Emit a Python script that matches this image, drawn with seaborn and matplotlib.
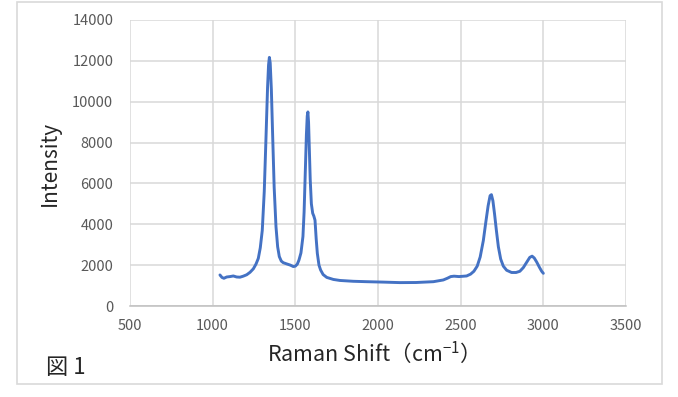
import matplotlib
matplotlib.use("Agg")
import matplotlib.pyplot as plt
import seaborn as sns
import pandas as pd
from matplotlib.patches import Rectangle

# Data
raman_shift = [1044, 1056, 1068, 1085, 1105, 1125, 1145, 1165, 1185, 1206, 1226, 1246,
               1262, 1276, 1288, 1300, 1312, 1322, 1332, 1338, 1343, 1348, 1355, 1363,
               1372, 1383, 1393, 1403, 1415, 1427, 1448, 1470, 1488, 1500, 1512, 1522,
               1534, 1546, 1553, 1560, 1567, 1572, 1576, 1580, 1585, 1590, 1597, 1605,
               1612, 1619, 1626, 1633, 1643, 1653, 1668, 1690, 1730, 1770, 1850, 1931,
               2030, 2133, 2230, 2335, 2395, 2420, 2440, 2460, 2490, 2536, 2560, 2580,
               2600, 2618, 2637, 2652, 2666, 2678, 2686, 2695, 2705, 2716, 2728, 2742,
               2758, 2778, 2808, 2835, 2858, 2879, 2900, 2918, 2932, 2945, 2960, 2976,
               2990, 3000]
intensity = [1520, 1400, 1357, 1420, 1440, 1470, 1420, 1410, 1460, 1530, 1650, 1820,
             2050, 2330, 2850, 3700, 5600, 8100, 10700, 11800, 12170, 11900, 10600, 8300,
             5800, 3880, 2900, 2420, 2200, 2120, 2060, 2000, 1930, 1950, 2050, 2250,
             2600, 3400, 4600, 6500, 8400, 9300, 9500, 9000, 7600, 6200, 5000, 4540,
             4400, 4200, 3300, 2580, 2000, 1760, 1540, 1400, 1300, 1250, 1210, 1190,
             1170, 1145, 1150, 1190, 1275, 1360, 1440, 1460, 1440, 1470, 1560, 1700,
             1950, 2400, 3200, 4100, 4900, 5400, 5450, 5150, 4500, 3700, 2900, 2300,
             1950, 1750, 1640, 1640, 1700, 1880, 2150, 2380, 2440, 2350, 2150, 1900,
             1700, 1600]

x_ticks = [500, 1000, 1500, 2000, 2500, 3000, 3500]
y_ticks = [0, 2000, 4000, 6000, 8000, 10000, 12000, 14000]

sns.set_theme(style="white")
plt.rcParams['font.family'] = ['Noto Sans CJK JP', 'DejaVu Sans']
plt.rcParams['mathtext.fontset'] = 'custom'
plt.rcParams['mathtext.rm'] = 'Noto Sans CJK JP'
plt.rcParams['mathtext.default'] = 'rm'

df = pd.DataFrame({"Raman Shift": raman_shift, "Intensity": intensity})

fig = plt.figure(figsize=(6.78, 3.97), dpi=100)
fig.patch.set_facecolor("white")
ax = fig.add_axes([130/678, 1 - 306/397, (626 - 130)/678, (306 - 20)/397])

sns.lineplot(data=df, x="Raman Shift", y="Intensity", ax=ax, color="#4472C4",
             linewidth=2.1)

ax.set_xlim(500, 3500)
ax.set_ylim(0, 14000)
ax.set_xticks(x_ticks)
ax.set_yticks(y_ticks)
ax.set_xticklabels([str(v) for v in x_ticks], color="#595959", fontsize=10.5)
ax.set_yticklabels([str(v) for v in y_ticks], color="#595959", fontsize=10.5)
ax.tick_params(axis='x', length=0, pad=9)
ax.tick_params(axis='y', length=0, pad=12)
ax.grid(True, color="#D9D9D9", linewidth=1.1)
ax.set_axisbelow(True)
for s in ["top", "right", "left"]:
    ax.spines[s].set_visible(False)
ax.spines["bottom"].set_color("#BFBFBF")
ax.spines["bottom"].set_linewidth(1.1)

ax.set_xlabel("Raman Shift（cm$^{-1}$）", fontsize=15.5, color="#262626")
ax.xaxis.set_label_coords((368 - 130) / (626 - 130), -(353 - 306) / (306 - 20))
ax.xaxis.label.set_va("center")
ax.set_ylabel("Intensity", fontsize=15, color="#262626", labelpad=8)

fig.text(46/678, 1 - 367/397, "図 1", fontsize=16, color="#262626", va="center", ha="left")

fig.patches.append(Rectangle((17/678, 1 - 384/397), (662 - 17)/678, (384 - 2)/397,
                             transform=fig.transFigure, fill=False,
                             edgecolor="#D9D9D9", linewidth=1.2))

fig.savefig("out.png", dpi=100)
